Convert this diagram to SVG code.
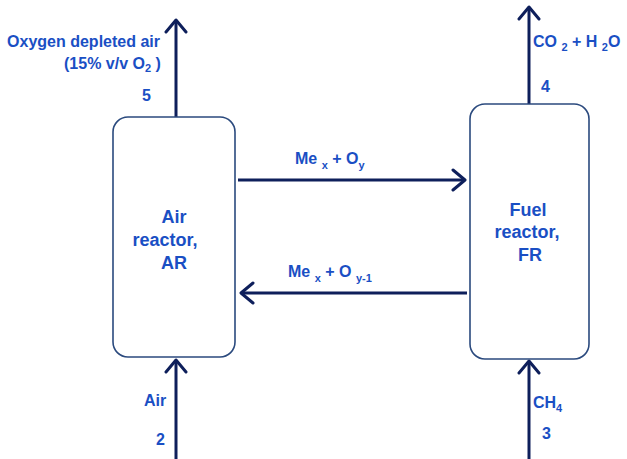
<svg xmlns="http://www.w3.org/2000/svg" width="627" height="459" viewBox="0 0 627 459">
<style>
.box{fill:#fff;stroke:#2b4a7e;stroke-width:1.6}
.ln{stroke:#0e1f5b;stroke-width:3;fill:none}
text{font-family:"Liberation Sans",Arial,sans-serif;font-weight:bold;fill:#1a4fc4;font-size:16px}
.nl{font-size:18px;text-anchor:middle}
.sub{font-size:11px}
</style>
<defs>
<marker id="ah2" markerWidth="26" markerHeight="24" refX="22" refY="12" orient="auto" markerUnits="userSpaceOnUse">
<path d="M10,2 L22,12 L10,22" fill="none" stroke="#0e1f5b" stroke-width="3" stroke-linecap="round" stroke-linejoin="round"/>
</marker>
</defs>
<g id="connectors">
<line class="ln" x1="176" y1="117" x2="176" y2="20" marker-end="url(#ah2)"/>
<line class="ln" x1="529" y1="104" x2="529" y2="7" marker-end="url(#ah2)"/>
<line class="ln" x1="176" y1="459" x2="176" y2="360" marker-end="url(#ah2)"/>
<line class="ln" x1="529" y1="459" x2="529" y2="361" marker-end="url(#ah2)"/>
<line class="ln" x1="238" y1="180" x2="465" y2="180" marker-end="url(#ah2)"/>
<line class="ln" x1="467" y1="293" x2="241" y2="293" marker-end="url(#ah2)"/>
</g>
<g id="AR">
<rect class="box" x="113" y="117" width="122" height="240" rx="15"/>
<text class="nl" x="174" y="223">Air</text>
<text class="nl" x="165" y="246">reactor,</text>
<text class="nl" x="174" y="269">AR</text>
</g>
<g id="FR">
<rect class="box" x="470" y="104" width="119" height="255" rx="15"/>
<text class="nl" x="528" y="216">Fuel</text>
<text class="nl" x="527" y="238">reactor,</text>
<text class="nl" x="530" y="261">FR</text>
</g>
<g id="labels">
<text x="160" y="47" text-anchor="end">Oxygen depleted air</text>
<text x="64" y="69">(15% v/v  O<tspan class="sub" dy="3">2</tspan><tspan dy="-3"> )</tspan></text>
<text x="142" y="101">5</text>
<text x="533" y="47">CO <tspan class="sub" dy="4">2</tspan><tspan dy="-4"> + H </tspan><tspan class="sub" dy="4">2</tspan><tspan dy="-4">O</tspan></text>
<text x="541" y="92">4</text>
<text x="295" y="164">Me <tspan class="sub" dy="5">x</tspan><tspan dy="-5"> +  O</tspan><tspan class="sub" dy="5">y</tspan></text>
<text x="288" y="277">Me <tspan class="sub" dy="5">x</tspan><tspan dy="-5"> + O </tspan><tspan class="sub" dy="5">y-1</tspan></text>
<text x="144" y="406">Air</text>
<text x="156" y="445">2</text>
<text x="533" y="408">CH<tspan class="sub" dy="4">4</tspan></text>
<text x="542" y="439">3</text>
</g>
</svg>
